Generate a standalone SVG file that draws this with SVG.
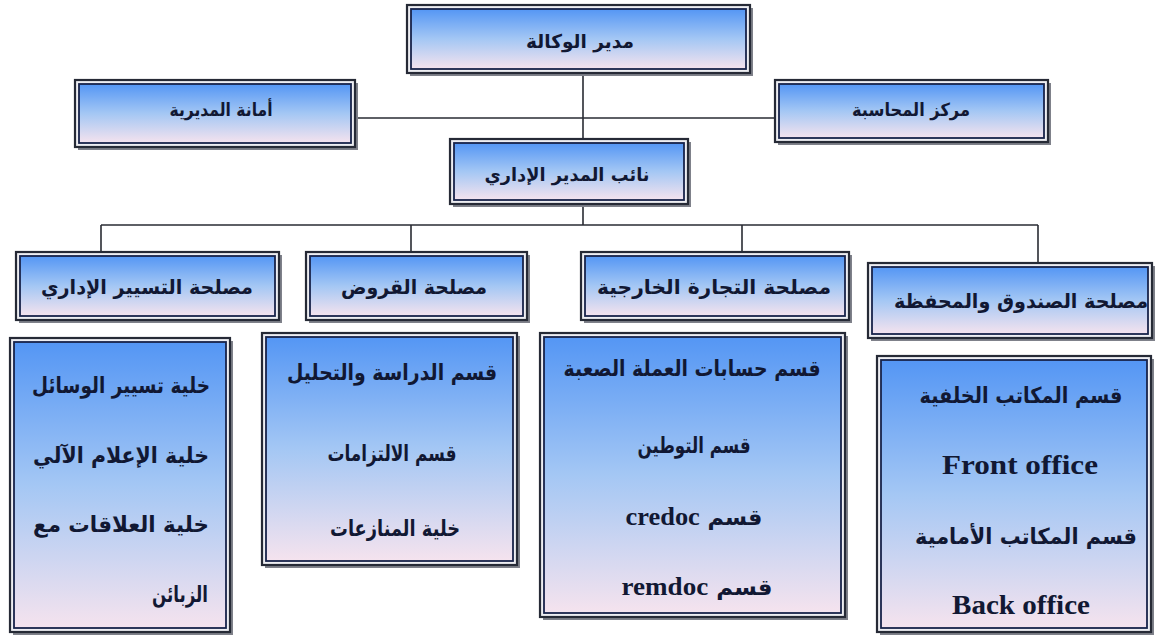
<svg xmlns="http://www.w3.org/2000/svg" width="1158" height="635" viewBox="0 0 1158 635">
<defs>
<linearGradient id="g" x1="0" y1="0" x2="0" y2="1">
<stop offset="0" stop-color="#5496f4"/>
<stop offset="0.5" stop-color="#a4c7f4"/>
<stop offset="1" stop-color="#f5e3ee"/>
</linearGradient>
<style>
.sh{fill:#7f818a}
.fr{fill:#eeeef2;stroke:#262a36;stroke-width:2.2}
.bx{fill:url(#g);stroke:#18234a;stroke-width:1.8}
.t{font-family:"DejaVu Sans",sans-serif;font-weight:bold;fill:#111833;direction:rtl}
.lat{font-family:"Liberation Serif",serif;font-weight:bold}
.c{fill:none;stroke:#2a2c34;stroke-width:1.6}
</style>
</defs>
<rect width="1158" height="635" fill="#ffffff"/>
<g id="connectors">
<path class="c" d="M583 73V139M355 118H775M583 204V225M101 225H1038M101 225V252M411 225V252M742 225V252M1038 225V263"/>
</g>
<g id="n-top">
<rect class="sh" x="410" y="8" width="343" height="68"/>
<rect class="fr" x="407" y="5" width="343" height="68"/>
<rect class="bx" x="411" y="9" width="335" height="60"/>
<text class="t" x="580" y="48" font-size="19" text-anchor="middle" textLength="108" lengthAdjust="spacingAndGlyphs">مدير الوكالة</text>
</g>
<g id="n-amana">
<rect class="sh" x="78" y="83" width="280" height="67"/>
<rect class="fr" x="75" y="80" width="280" height="67"/>
<rect class="bx" x="79" y="84" width="272" height="59"/>
<text class="t" x="221" y="116" font-size="18" text-anchor="middle" textLength="103" lengthAdjust="spacingAndGlyphs">أمانة المديرية</text>
</g>
<g id="n-markaz">
<rect class="sh" x="778" y="83" width="273" height="62"/>
<rect class="fr" x="775" y="80" width="273" height="62"/>
<rect class="bx" x="779" y="84" width="265" height="54"/>
<text class="t" x="911" y="116" font-size="18" text-anchor="middle" textLength="118" lengthAdjust="spacingAndGlyphs">مركز المحاسبة</text>
</g>
<g id="n-naib">
<rect class="sh" x="453" y="142" width="238" height="65"/>
<rect class="fr" x="450" y="139" width="238" height="65"/>
<rect class="bx" x="454" y="143" width="230" height="57"/>
<text class="t" x="567" y="181" font-size="18" text-anchor="middle" textLength="165" lengthAdjust="spacingAndGlyphs">نائب المدير الإداري</text>
</g>
<g id="n-tasyir">
<rect class="sh" x="19" y="255" width="263" height="68"/>
<rect class="fr" x="16" y="252" width="263" height="68"/>
<rect class="bx" x="20" y="256" width="255" height="60"/>
<text class="t" x="147" y="294" font-size="20" text-anchor="middle" textLength="212" lengthAdjust="spacingAndGlyphs">مصلحة التسيير الإداري</text>
</g>
<g id="n-qurud">
<rect class="sh" x="309" y="255" width="221" height="68"/>
<rect class="fr" x="306" y="252" width="221" height="68"/>
<rect class="bx" x="310" y="256" width="213" height="60"/>
<text class="t" x="414" y="294" font-size="20" text-anchor="middle" textLength="146" lengthAdjust="spacingAndGlyphs">مصلحة القروض</text>
</g>
<g id="n-tijara">
<rect class="sh" x="584" y="255" width="268" height="68"/>
<rect class="fr" x="581" y="252" width="268" height="68"/>
<rect class="bx" x="585" y="256" width="260" height="60"/>
<text class="t" x="714" y="294" font-size="20" text-anchor="middle" textLength="234" lengthAdjust="spacingAndGlyphs">مصلحة التجارة الخارجية</text>
</g>
<g id="n-sunduq">
<rect class="sh" x="871" y="266" width="284" height="75"/>
<rect class="fr" x="868" y="263" width="284" height="75"/>
<rect class="bx" x="872" y="267" width="276" height="67"/>
<text class="t" x="1021" y="308" font-size="20" text-anchor="middle" textLength="254" lengthAdjust="spacingAndGlyphs">مصلحة الصندوق والمحفظة</text>
</g>
<g id="n-b1">
<rect class="sh" x="13" y="341" width="220" height="294"/>
<rect class="fr" x="10" y="338" width="220" height="294"/>
<rect class="bx" x="14" y="342" width="212" height="286"/>
<text class="t" x="121" y="393" font-size="22" text-anchor="middle" textLength="178" lengthAdjust="spacingAndGlyphs">خلية تسيير الوسائل</text>
<text class="t" x="121" y="463" font-size="22" text-anchor="middle" textLength="176" lengthAdjust="spacingAndGlyphs">خلية الإعلام الآلي</text>
<text class="t" x="121" y="532" font-size="22" text-anchor="middle" textLength="176" lengthAdjust="spacingAndGlyphs">خلية العلاقات مع</text>
<text class="t" x="180" y="602" font-size="22" text-anchor="middle" textLength="56" lengthAdjust="spacingAndGlyphs">الزبائن</text>
</g>
<g id="n-b2">
<rect class="sh" x="265" y="336" width="255" height="232"/>
<rect class="fr" x="262" y="333" width="255" height="232"/>
<rect class="bx" x="266" y="337" width="247" height="224"/>
<text class="t" x="392" y="380" font-size="22" text-anchor="middle" textLength="210" lengthAdjust="spacingAndGlyphs">قسم الدراسة والتحليل</text>
<text class="t" x="392" y="461" font-size="22" text-anchor="middle" textLength="129" lengthAdjust="spacingAndGlyphs">قسم الالتزامات</text>
<text class="t" x="395" y="536" font-size="22" text-anchor="middle" textLength="130" lengthAdjust="spacingAndGlyphs">خلية المنازعات</text>
</g>
<g id="n-b3">
<rect class="sh" x="543" y="336" width="305" height="284"/>
<rect class="fr" x="540" y="333" width="305" height="284"/>
<rect class="bx" x="544" y="337" width="297" height="276"/>
<text class="t" x="692" y="376" font-size="22" text-anchor="middle" textLength="257" lengthAdjust="spacingAndGlyphs">قسم حسابات العملة الصعبة</text>
<text class="t" x="694" y="453" font-size="22" text-anchor="middle" textLength="113" lengthAdjust="spacingAndGlyphs">قسم التوطين</text>
<text class="t" x="694" y="525" font-size="22" text-anchor="middle" textLength="137" lengthAdjust="spacingAndGlyphs">قسم <tspan class="lat" font-size="26">credoc</tspan></text>
<text class="t" x="697" y="595" font-size="22" text-anchor="middle" textLength="151" lengthAdjust="spacingAndGlyphs">قسم <tspan class="lat" font-size="26">remdoc</tspan></text>
</g>
<g id="n-b4">
<rect class="sh" x="880" y="359" width="274" height="276"/>
<rect class="fr" x="877" y="356" width="274" height="276"/>
<rect class="bx" x="881" y="360" width="266" height="268"/>
<text class="t" x="1021" y="403" font-size="22" text-anchor="middle" textLength="203" lengthAdjust="spacingAndGlyphs">قسم المكاتب الخلفية</text>
<text class="lat" x="1020" y="474" font-size="28" fill="#111833" text-anchor="middle" textLength="156" lengthAdjust="spacingAndGlyphs">Front office</text>
<text class="t" x="1026" y="544" font-size="22" text-anchor="middle" textLength="222" lengthAdjust="spacingAndGlyphs">قسم المكاتب الأمامية</text>
<text class="lat" x="1021" y="614" font-size="28" fill="#111833" text-anchor="middle" textLength="138" lengthAdjust="spacingAndGlyphs">Back office</text>
</g>
</svg>
